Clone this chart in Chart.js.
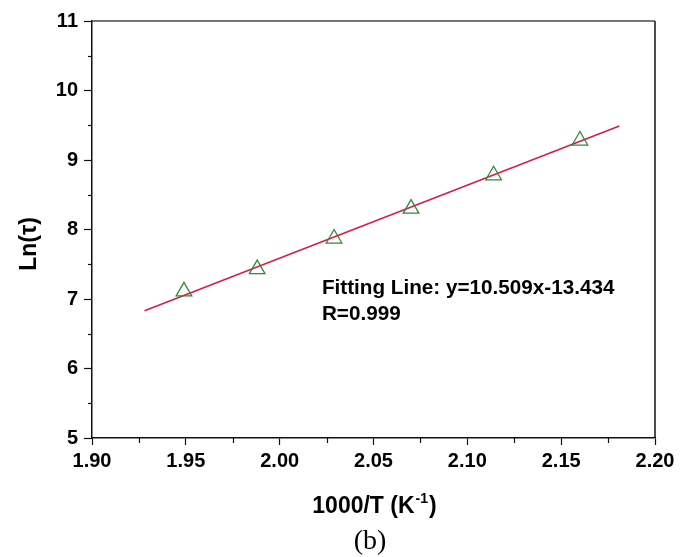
<!DOCTYPE html>
<html>
<head>
<meta charset="utf-8">
<script src="https://cdn.jsdelivr.net/npm/chart.js@4/dist/chart.umd.min.js"></script>
<style>
  body { margin: 0; background: #fff; }
  canvas { display: block; }
</style>
</head>
<body>
<canvas id="chart" width="698" height="557"></canvas>
<script>
var invT = [1.949, 1.988, 2.029, 2.070, 2.114, 2.160];
var lnTau = [7.11, 7.43, 7.87, 8.30, 8.78, 9.28];

// ends of the drawn fitting line
var fitX = [1.928, 2.181];
var fitY = [6.83, 9.49];

var xMinorTicks = [1.925, 1.975, 2.025, 2.075, 2.125, 2.175];
var yMinorTicks = [5.5, 6.5, 7.5, 8.5, 9.5, 10.5];

var fitLabel = "Fitting Line: y=10.509x-13.434";
var rLabel = "R=0.999";

const boldFont = "Liberation Sans, Arial, sans-serif";

let pts = invT.map((x, i) => ({ x: x, y: lnTau[i] }));
let fitPts = fitX.map((x, i) => ({ x: x, y: fitY[i] }));

const decorations = {
  id: "decorations",
  afterDraw(chart) {
    let ctx = chart.ctx;
    let area = chart.chartArea;
    let xs = chart.scales.x;
    let ys = chart.scales.y;
    ctx.save();

    // frame top and right
    ctx.lineWidth = 1.5;
    ctx.strokeStyle = "#4a4a4a";
    ctx.beginPath();
    ctx.moveTo(area.left, area.top);
    ctx.lineTo(area.right, area.top);
    ctx.stroke();
    ctx.strokeStyle = "#111";
    ctx.beginPath();
    ctx.moveTo(area.right, area.top);
    ctx.lineTo(area.right, area.bottom);
    ctx.stroke();

    // minor ticks
    ctx.lineWidth = 1.2;
    ctx.strokeStyle = "#111";
    xMinorTicks.forEach(v => {
      let px = Math.round(xs.getPixelForValue(v)) + 0.5;
      ctx.beginPath();
      ctx.moveTo(px, area.bottom);
      ctx.lineTo(px, area.bottom + 5);
      ctx.stroke();
    });
    yMinorTicks.forEach(v => {
      let py = Math.round(ys.getPixelForValue(v)) + 0.5;
      ctx.beginPath();
      ctx.moveTo(area.left, py);
      ctx.lineTo(area.left - 4, py);
      ctx.stroke();
    });

    ctx.fillStyle = "#000";

    // x title with superscript
    let cx = (area.left + area.right) / 2;
    let base = 513;
    let mainFont = "bold 23px " + boldFont;
    let supFont = "bold 14px " + boldFont;
    ctx.font = mainFont;
    let p1 = "1000/T (K";
    let p3 = ")";
    let w1 = ctx.measureText(p1).width;
    let w3 = ctx.measureText(p3).width;
    ctx.font = supFont;
    let w2 = ctx.measureText("-1").width;
    let startX = cx - (w1 + w2 + w3) / 2;
    ctx.textAlign = "left";
    ctx.textBaseline = "alphabetic";
    ctx.font = mainFont;
    ctx.fillText(p1, startX, base);
    ctx.font = supFont;
    ctx.fillText("-1", startX + w1 + 1, base - 10);
    ctx.font = mainFont;
    ctx.fillText(p3, startX + w1 + w2 + 2, base);

    // y title
    ctx.save();
    ctx.translate(30, 244);
    ctx.rotate(-Math.PI / 2);
    ctx.textAlign = "center";
    ctx.textBaseline = "middle";
    ctx.font = "bold 23px " + boldFont;
    ctx.fillText("Ln(τ)", 0, 0);
    ctx.restore();

    // annotation
    ctx.textAlign = "left";
    ctx.textBaseline = "alphabetic";
    ctx.font = "bold 20.7px " + boldFont;
    let ax = xs.getPixelForValue(2.0225);
    ctx.fillText(fitLabel, ax, 294);
    ctx.fillText(rLabel, ax, 320);

    // panel label
    ctx.textAlign = "center";
    ctx.font = "28px Liberation Serif, Times New Roman, serif";
    ctx.fillText("(b)", 370, 549);

    ctx.restore();
  }
};

new Chart("chart", {
  type: "scatter",
  data: {
    datasets: [
      {
        label: "fit",
        type: "line",
        data: fitPts,
        borderColor: "#d81b4a",
        borderWidth: 1.5,
        pointRadius: 0,
        fill: false,
        order: 2
      },
      {
        label: "data",
        data: pts,
        pointStyle: "triangle",
        pointRadius: 9,
        pointHoverRadius: 9,
        pointBorderWidth: 1.3,
        pointBorderColor: "#2e8b3a",
        pointBackgroundColor: "rgba(255,255,255,0)",
        order: 1
      }
    ]
  },
  options: {
    responsive: false,
    animation: false,
    layout: { padding: { top: 21, right: 43, left: 0, bottom: 0 } },
    plugins: {
      legend: { display: false },
      tooltip: { enabled: false }
    },
    scales: {
      x: {
        type: "linear",
        min: 1.90,
        max: 2.20,
        ticks: {
          stepSize: 0.05,
          color: "#000",
          padding: 4,
          font: { family: boldFont, size: 20, weight: "bold" },
          callback: v => v.toFixed(2)
        },
        grid: {
          drawOnChartArea: false,
          tickLength: 7,
          tickColor: "#111",
          tickWidth: 1.2
        },
        border: { color: "#111", width: 1.5 },
        afterFit(scale) { scale.height = 119; }
      },
      y: {
        min: 5,
        max: 11,
        ticks: {
          stepSize: 1,
          color: "#000",
          padding: 6,
          font: { family: boldFont, size: 20, weight: "bold" }
        },
        grid: {
          drawOnChartArea: false,
          tickLength: 8,
          tickColor: "#111",
          tickWidth: 1.2
        },
        border: { color: "#111", width: 1.5 },
        afterFit(scale) { scale.width = 92; }
      }
    }
  },
  plugins: [decorations]
});
</script>
</body>
</html>
